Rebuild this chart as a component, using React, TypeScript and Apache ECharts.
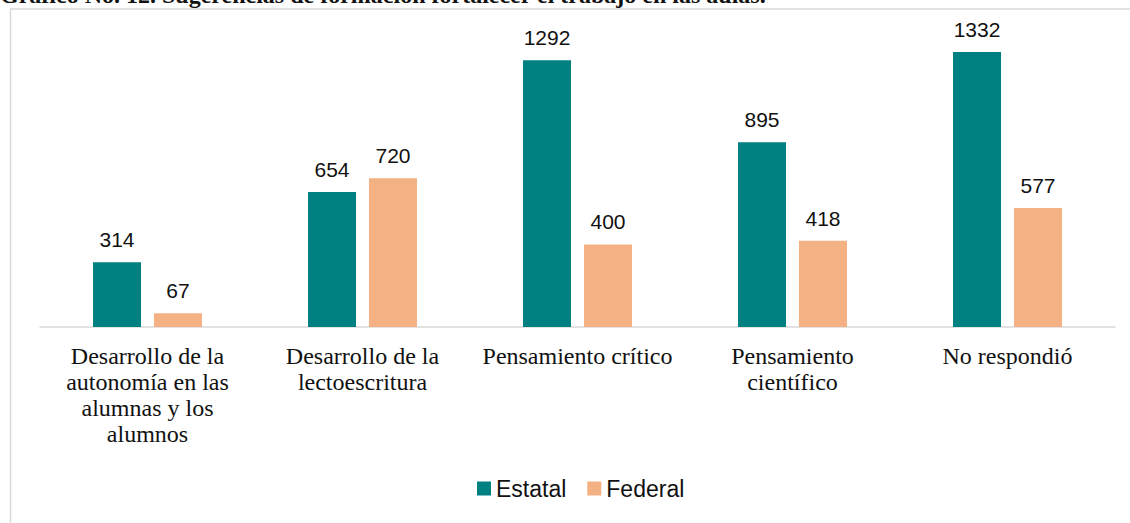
import React, { useEffect, useRef } from "react";
import * as echarts from "echarts";

const titleText = "Gráfico No. 12. Sugerencias de formación fortalecer el trabajo en las aulas.";
const categories = [
  "Desarrollo de la\nautonomía en las\nalumnas y los\nalumnos",
  "Desarrollo de la\nlectoescritura",
  "Pensamiento crítico",
  "Pensamiento\ncientífico",
  "No respondió",
];
const estatal = [314, 654, 1292, 895, 1332];
const federal = [67, 720, 400, 418, 577];

export default function App() {
  const ref = useRef<HTMLDivElement>(null);
  useEffect(() => {
    if (!ref.current) return;
    const chart = echarts.init(ref.current, null, { renderer: "svg" });
    const labelStyle = {
      show: true,
      position: "top" as const,
      distance: 12,
      color: "#111",
      fontFamily: "Liberation Sans, Arial, sans-serif",
      fontSize: 21,
    };
    chart.setOption({
      animation: false,
      backgroundColor: "#ffffff",
      graphic: [
        {
          type: "rect",
          shape: { x: 10.5, y: 9, width: 1300, height: 700 },
          style: { fill: "#ffffff", stroke: "#d9d9d9", lineWidth: 1.5 },
          z: -10,
        },
        {
          type: "text",
          x: 0,
          y: -17,
          style: {
            text: titleText,
            font: 'bold 24px "Liberation Serif", serif',
            fill: "#111",
            verticalAlign: "top",
          },
        },
      ],
      legend: {
        left: 472,
        top: 472,
        itemWidth: 14,
        itemHeight: 14,
        itemGap: 21,
        icon: "rect",
        textStyle: {
          fontFamily: "Liberation Sans, Arial, sans-serif",
          fontSize: 23,
          color: "#111",
        },
        data: ["Estatal", "Federal"],
      },
      grid: { left: 40, right: 15, top: 38, bottom: 196, containLabel: false },
      xAxis: {
        type: "category",
        data: categories,
        axisLine: { lineStyle: { color: "#d9d9d9", width: 1.5 } },
        axisTick: { show: false },
        axisLabel: {
          interval: 0,
          margin: 16,
          color: "#111",
          fontFamily: "Liberation Serif, Times New Roman, serif",
          fontSize: 24,
          lineHeight: 26,
          align: "center",
        },
      },
      yAxis: {
        type: "value",
        min: 0,
        max: 1400,
        show: false,
        splitLine: { show: false },
      },
      series: [
        {
          name: "Estatal",
          type: "bar",
          data: estatal,
          barWidth: 48,
          barGap: "27%",
          itemStyle: { color: "#008080" },
          label: labelStyle,
        },
        {
          name: "Federal",
          type: "bar",
          data: federal,
          barWidth: 48,
          barGap: "27%",
          itemStyle: { color: "#F4B183" },
          label: labelStyle,
        },
      ],
    });
    return () => chart.dispose();
  }, []);
  return (
    <div
      ref={ref}
      style={{ position: "absolute", left: 0, top: 0, width: 1130, height: 523 }}
    />
  );
}
